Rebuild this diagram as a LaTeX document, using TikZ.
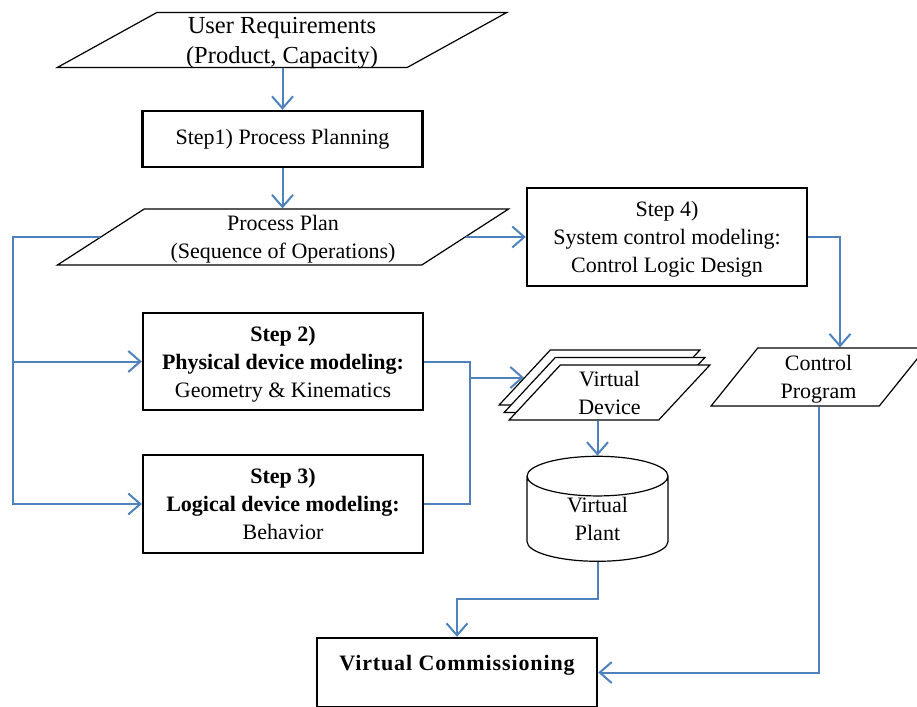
\documentclass[tikz,border=0pt]{standalone}
\usepackage{fontspec}
\setmainfont{Liberation Serif}
\usetikzlibrary{shapes.geometric,arrows.meta,shadows}
\definecolor{lineblue}{RGB}{79,129,189}

\begin{document}
\begin{tikzpicture}[
        x=1pt, y=-1pt,
        every node/.style={font=\fontsize{22}{28}\selectfont, align=center, inner sep=0pt},
        link/.style={draw=lineblue, line width=2pt, -{Straight Barb[length=12pt,width=21pt]}},
        wire/.style={draw=lineblue, line width=2pt},
        ]
        \tikzstyle{stepbox} = [draw, line width=2.4pt, fill=white, minimum width=280pt];
        \tikzstyle{data} = [trapezium, trapezium stretches=true, draw, line width=1.2pt, fill=white];
        \useasboundingbox (0,0) rectangle (917,706);

        \node [data, trapezium left angle=31.2, trapezium right angle=148.8, minimum width=450pt, minimum height=55pt,
               font=\fontsize{24.5}{30}\selectfont, text depth=-8pt] (usr) at (282,40) {User Requirements\\(Product, Capacity)};
        \node [stepbox, minimum height=56pt] (planning) at (282.5,139) {Step1) Process Planning};
        \node [data, trapezium left angle=31.6, trapezium right angle=148.4, minimum width=452pt, minimum height=56pt, text depth=-6pt] (plan) at (283,237) {Process Plan\\(Sequence of Operations)};
        \node [stepbox, minimum height=97pt, text depth=-7pt] (physical) at (283,361.5) {\bfseries Step 2)\\\bfseries Physical device modeling:\\Geometry \& Kinematics};
        \node [stepbox, minimum height=98pt, text depth=-6pt] (logical) at (283,504) {\bfseries Step 3)\\\bfseries Logical device modeling:\\Behavior};
        \node [stepbox, minimum height=98pt, text depth=-3pt] (control) at (667,237) {Step 4)\\System control modeling:\\Control Logic Design};
        \node [data, trapezium left angle=53.3, trapezium right angle=126.7, minimum width=201pt, minimum height=55pt,
               double copy shadow={shadow xshift=-5pt, shadow yshift=7.5pt}] (device) at (609.5,392.5) {Virtual\\Device};
        \node [data, trapezium left angle=56.1, trapezium right angle=123.9, minimum width=215pt, minimum height=58pt, text depth=-5pt] (program) at (818.5,377) {Control\\Program};
        \node [cylinder, shape border rotate=90, aspect=0.65, draw, line width=1.2pt, minimum width=141pt, minimum height=105pt] (plant) at (597.5,519) {Virtual\\Plant};
        \node [stepbox, minimum height=69pt, text height=15pt, text depth=20pt] (vc) at (457,672.5) {\bfseries\addfontfeature{LetterSpace=4}Virtual Commissioning};

        \coordinate (lbus) at (13,0);
        \coordinate (rbus) at (470,0);
        \coordinate (cbus) at (840,0);
        \coordinate (devback) at ([shift={(-10,-15)}]device.west);

        \draw [link] (usr.south -| planning) -- (planning);
        \draw [link] (planning) -- (planning |- plan.north);
        \draw [link] (plan.east) -- (plan.east -| control.west);
        \draw [link] (plan.west) -- (plan.west -| lbus) |- (logical.west);
        \draw [link] (physical.west -| lbus) -- (physical.west);
        \draw [wire] (physical.east) -- (physical.east -| rbus) |- (logical.east);
        \draw [link] (rbus |- devback) -- (devback);
        \draw [link] (plant.north |- device.south) -- (plant.north);
        \draw [link] (plant.south) -- ++(0,37) -| (vc.north);
        \draw [link] (control.east) -| (cbus |- program.north);
        \draw [link] (program |- program.south) |- (vc.east);
\end{tikzpicture}
\end{document}
